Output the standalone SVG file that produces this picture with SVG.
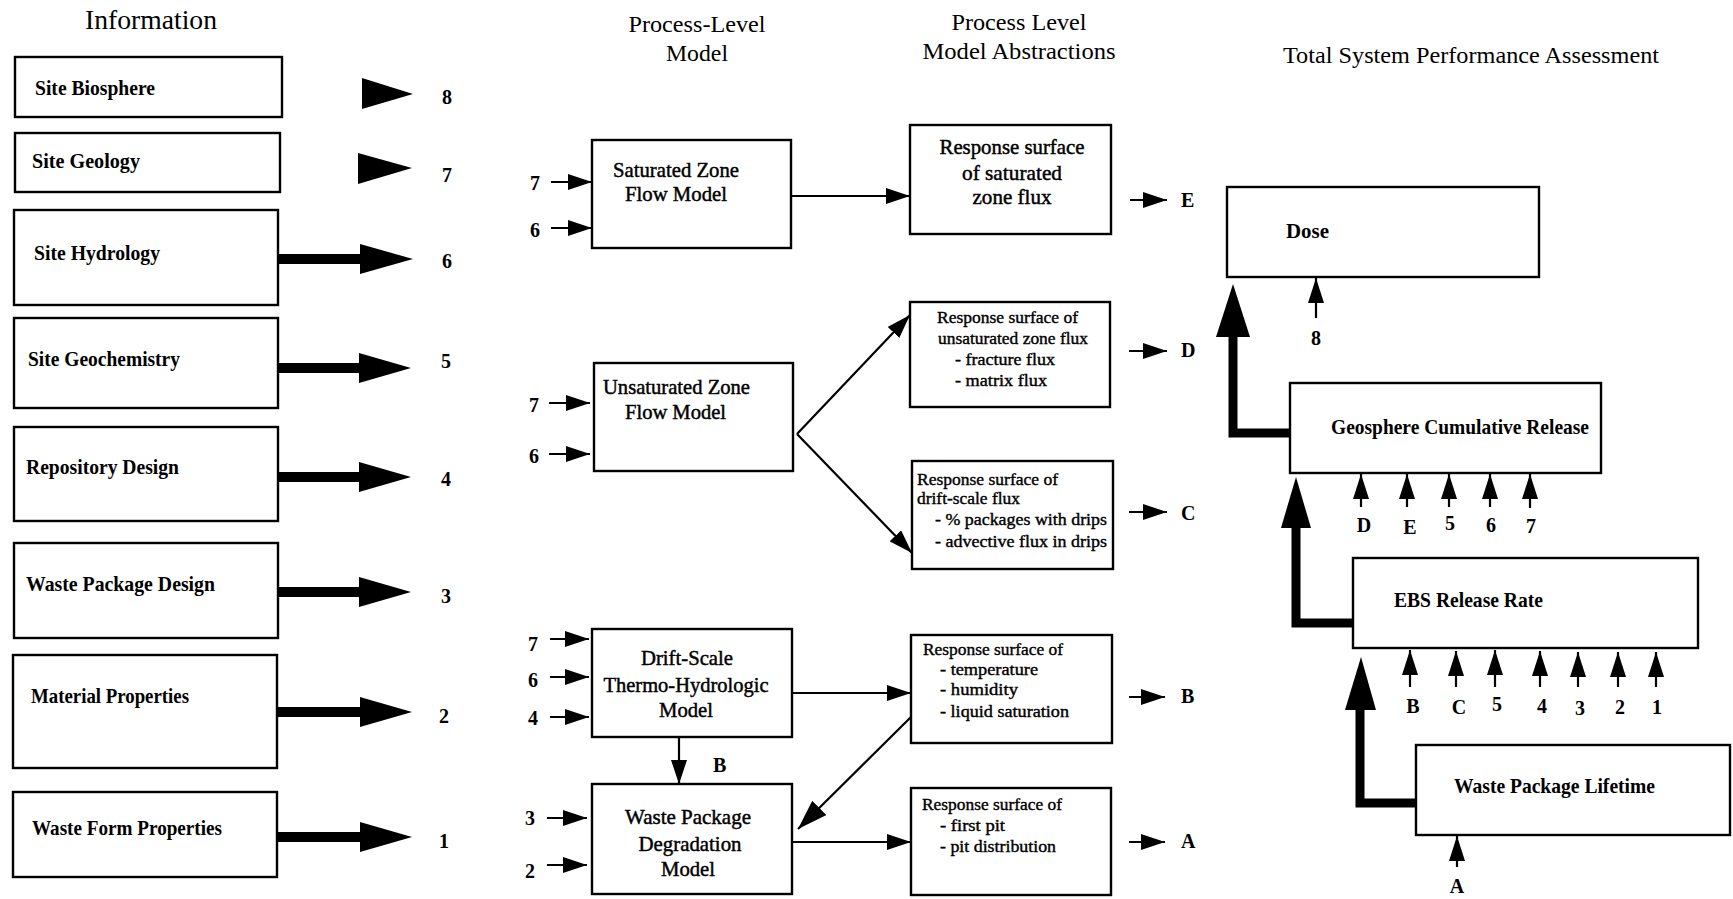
<svg xmlns="http://www.w3.org/2000/svg" width="1733" height="899" viewBox="0 0 1733 899">
<style>
.box{fill:#fff;stroke:#000;stroke-width:2.4}
text{font-family:"Liberation Serif","Times New Roman",serif;fill:#000}
.hd{font-size:24px}
.lb{font-size:21px;font-weight:bold}
.md{font-size:21px;stroke:#000;stroke-width:0.45}
.sm{font-size:17.5px;stroke:#000;stroke-width:0.4}
.num{font-size:20px;font-weight:bold}
.ln{stroke:#000;stroke-width:2.2;fill:none}
.blk{fill:#000;stroke:none}
.thick{fill:none;stroke:#000;stroke-width:9}
</style>
<defs>
<marker id="ah" markerUnits="userSpaceOnUse" markerWidth="24" markerHeight="16" viewBox="0 0 24 16" refX="24" refY="8" orient="auto"><path d="M0,0 L24,8 L0,16 z" fill="#000"/></marker>
<marker id="ab" markerUnits="userSpaceOnUse" markerWidth="30" markerHeight="20" viewBox="0 0 30 20" refX="30" refY="10" orient="auto"><path d="M0,0 L30,10 L0,20 z" fill="#000"/></marker>
<marker id="au" markerUnits="userSpaceOnUse" markerWidth="25" markerHeight="16" viewBox="0 0 25 16" refX="25" refY="8" orient="auto"><path d="M0,0 L25,8 L0,16 z" fill="#000"/></marker>
</defs>
<rect width="1733" height="899" fill="#fff"/>

<g id="headers">
<text x="85" y="29" textLength="132" lengthAdjust="spacingAndGlyphs" style="font-size:28px">Information</text>
<text class="hd" x="697" y="32" text-anchor="middle" textLength="137" lengthAdjust="spacingAndGlyphs">Process-Level</text>
<text class="hd" x="697" y="61" text-anchor="middle" textLength="62" lengthAdjust="spacingAndGlyphs">Model</text>
<text class="hd" x="1019" y="30" text-anchor="middle" textLength="135" lengthAdjust="spacingAndGlyphs">Process Level</text>
<text class="hd" x="1019" y="59" text-anchor="middle" textLength="193" lengthAdjust="spacingAndGlyphs">Model Abstractions</text>
<text class="hd" x="1283" y="63" textLength="376" lengthAdjust="spacingAndGlyphs">Total System Performance Assessment</text>
</g>

<g id="info-site-biosphere"><rect class="box" x="15" y="57" width="267" height="60"/><text class="lb" x="35" y="95" textLength="120" lengthAdjust="spacingAndGlyphs">Site Biosphere</text></g>
<g id="info-site-geology"><rect class="box" x="15" y="133" width="265" height="59"/><text class="lb" x="32" y="168" textLength="108" lengthAdjust="spacingAndGlyphs">Site Geology</text></g>
<g id="info-site-hydrology"><rect class="box" x="14" y="210" width="264" height="95"/><text class="lb" x="34" y="260" textLength="126" lengthAdjust="spacingAndGlyphs">Site Hydrology</text></g>
<g id="info-site-geochemistry"><rect class="box" x="14" y="318" width="264" height="90"/><text class="lb" x="28" y="366" textLength="152" lengthAdjust="spacingAndGlyphs">Site Geochemistry</text></g>
<g id="info-repository-design"><rect class="box" x="14" y="427" width="264" height="94"/><text class="lb" x="26" y="474" textLength="153" lengthAdjust="spacingAndGlyphs">Repository Design</text></g>
<g id="info-waste-package-design"><rect class="box" x="14" y="543" width="264" height="95"/><text class="lb" x="26" y="591" textLength="189" lengthAdjust="spacingAndGlyphs">Waste Package Design</text></g>
<g id="info-material-properties"><rect class="box" x="13" y="655" width="264" height="113"/><text class="lb" x="31" y="703" textLength="158" lengthAdjust="spacingAndGlyphs">Material Properties</text></g>
<g id="info-waste-form-properties"><rect class="box" x="13" y="792" width="264" height="85"/><text class="lb" x="32" y="835" textLength="190" lengthAdjust="spacingAndGlyphs">Waste Form Properties</text></g>

<g id="info-numbers">
<text class="num" x="442" y="104">8</text>
<text class="num" x="442" y="182">7</text>
<text class="num" x="442" y="268">6</text>
<text class="num" x="441" y="368">5</text>
<text class="num" x="441" y="486">4</text>
<text class="num" x="441" y="603">3</text>
<text class="num" x="439" y="723">2</text>
<text class="num" x="439" y="848">1</text>
</g>

<g id="plm-saturated-zone"><rect class="box" x="592" y="140" width="199" height="108"/>
<text class="md" x="613" y="177" textLength="126" lengthAdjust="spacingAndGlyphs">Saturated Zone</text>
<text class="md" x="625" y="201" textLength="102" lengthAdjust="spacingAndGlyphs">Flow Model</text></g>
<g id="plm-unsaturated-zone"><rect class="box" x="594" y="363" width="199" height="108"/>
<text class="md" x="603" y="394" textLength="147" lengthAdjust="spacingAndGlyphs">Unsaturated Zone</text>
<text class="md" x="625" y="419" textLength="101" lengthAdjust="spacingAndGlyphs">Flow Model</text></g>
<g id="plm-drift-scale"><rect class="box" x="592" y="629" width="200" height="108"/>
<text class="md" x="687" y="665" text-anchor="middle" textLength="92" lengthAdjust="spacingAndGlyphs">Drift-Scale</text>
<text class="md" x="686" y="692" text-anchor="middle" textLength="165" lengthAdjust="spacingAndGlyphs">Thermo-Hydrologic</text>
<text class="md" x="686" y="717" text-anchor="middle" textLength="54" lengthAdjust="spacingAndGlyphs">Model</text></g>
<g id="plm-waste-package"><rect class="box" x="592" y="784" width="200" height="110"/>
<text class="md" x="688" y="824" text-anchor="middle" textLength="126" lengthAdjust="spacingAndGlyphs">Waste Package</text>
<text class="md" x="690" y="851" text-anchor="middle" textLength="103" lengthAdjust="spacingAndGlyphs">Degradation</text>
<text class="md" x="688" y="876" text-anchor="middle" textLength="54" lengthAdjust="spacingAndGlyphs">Model</text></g>

<g id="abs-saturated"><rect class="box" x="910" y="125" width="201" height="109"/>
<text class="md" x="1012" y="154" text-anchor="middle" textLength="145" lengthAdjust="spacingAndGlyphs">Response surface</text>
<text class="md" x="1012" y="180" text-anchor="middle" textLength="100" lengthAdjust="spacingAndGlyphs">of saturated</text>
<text class="md" x="1012" y="204" text-anchor="middle" textLength="79" lengthAdjust="spacingAndGlyphs">zone flux</text></g>
<g id="abs-unsaturated"><rect class="box" x="910" y="302" width="200" height="105"/>
<text class="sm" x="937" y="323" textLength="141" lengthAdjust="spacingAndGlyphs">Response surface of</text>
<text class="sm" x="938" y="344" textLength="150" lengthAdjust="spacingAndGlyphs">unsaturated zone flux</text>
<text class="sm" x="955" y="365" textLength="100" lengthAdjust="spacingAndGlyphs">- fracture flux</text>
<text class="sm" x="955" y="386" textLength="92" lengthAdjust="spacingAndGlyphs">- matrix flux</text></g>
<g id="abs-drift-flux"><rect class="box" x="912" y="461" width="201" height="108"/>
<text class="sm" x="917" y="485" textLength="141" lengthAdjust="spacingAndGlyphs">Response surface of</text>
<text class="sm" x="917" y="504" textLength="103" lengthAdjust="spacingAndGlyphs">drift-scale flux</text>
<text class="sm" x="935" y="525" textLength="172" lengthAdjust="spacingAndGlyphs">- % packages with drips</text>
<text class="sm" x="935" y="547" textLength="172" lengthAdjust="spacingAndGlyphs">- advective flux in drips</text></g>
<g id="abs-thermal"><rect class="box" x="911" y="635" width="201" height="108"/>
<text class="sm" x="923" y="655" textLength="140" lengthAdjust="spacingAndGlyphs">Response surface of</text>
<text class="sm" x="940" y="675" textLength="98" lengthAdjust="spacingAndGlyphs">- temperature</text>
<text class="sm" x="940" y="695" textLength="78" lengthAdjust="spacingAndGlyphs">- humidity</text>
<text class="sm" x="940" y="717" textLength="129" lengthAdjust="spacingAndGlyphs">- liquid saturation</text></g>
<g id="abs-pit"><rect class="box" x="911" y="788" width="200" height="107"/>
<text class="sm" x="922" y="810" textLength="140" lengthAdjust="spacingAndGlyphs">Response surface of</text>
<text class="sm" x="940" y="831" textLength="65" lengthAdjust="spacingAndGlyphs">- first pit</text>
<text class="sm" x="940" y="852" textLength="116" lengthAdjust="spacingAndGlyphs">- pit distribution</text></g>

<g id="tspa-dose"><rect class="box" x="1227" y="187" width="312" height="90"/><text class="lb" x="1286" y="238" textLength="43" lengthAdjust="spacingAndGlyphs">Dose</text></g>
<g id="tspa-geosphere"><rect class="box" x="1290" y="383" width="311" height="90"/><text class="lb" x="1331" y="434" textLength="258" lengthAdjust="spacingAndGlyphs">Geosphere Cumulative Release</text></g>
<g id="tspa-ebs"><rect class="box" x="1353" y="558" width="345" height="90"/><text class="lb" x="1394" y="607" textLength="149" lengthAdjust="spacingAndGlyphs">EBS Release Rate</text></g>
<g id="tspa-wp-lifetime"><rect class="box" x="1416" y="745" width="314" height="90"/><text class="lb" x="1454" y="793" textLength="201" lengthAdjust="spacingAndGlyphs">Waste Package Lifetime</text></g>

<g id="connectors">
<polygon class="blk" points="362,78 413,94 362,109"/>
<polygon class="blk" points="358,153 412,168 358,184"/>
<rect class="blk" x="278" y="254" width="84" height="10"/><polygon class="blk" points="360,244 413,259 360,274"/>
<rect class="blk" x="278" y="363" width="83" height="10"/><polygon class="blk" points="359,353 411,368 359,383"/>
<rect class="blk" x="278" y="472" width="83" height="10"/><polygon class="blk" points="359,462 411,477 359,492"/>
<rect class="blk" x="278" y="587" width="83" height="10"/><polygon class="blk" points="359,577 411,592 359,607"/>
<rect class="blk" x="277" y="707" width="85" height="10"/><polygon class="blk" points="360,697 412,712 360,727"/>
<rect class="blk" x="277" y="832" width="85" height="10"/><polygon class="blk" points="360,822 412,837 360,852"/>

<line class="ln" x1="551" y1="182" x2="592" y2="182" marker-end="url(#ah)"/>
<line class="ln" x1="551" y1="228" x2="592" y2="228" marker-end="url(#ah)"/>
<line class="ln" x1="549" y1="403" x2="590" y2="403" marker-end="url(#ah)"/>
<line class="ln" x1="549" y1="454" x2="590" y2="454" marker-end="url(#ah)"/>
<line class="ln" x1="550" y1="639" x2="589" y2="639" marker-end="url(#ah)"/>
<line class="ln" x1="550" y1="677" x2="589" y2="677" marker-end="url(#ah)"/>
<line class="ln" x1="550" y1="717" x2="589" y2="717" marker-end="url(#ah)"/>
<line class="ln" x1="547" y1="818" x2="587" y2="818" marker-end="url(#ah)"/>
<line class="ln" x1="547" y1="865" x2="587" y2="865" marker-end="url(#ah)"/>

<line class="ln" x1="791" y1="196" x2="910" y2="196" marker-end="url(#ah)"/>
<line class="ln" x1="797" y1="434" x2="910" y2="315" marker-end="url(#ah)"/>
<line class="ln" x1="797" y1="434" x2="912" y2="553" marker-end="url(#ah)"/>
<line class="ln" x1="792" y1="693" x2="911" y2="693" marker-end="url(#ah)"/>
<line class="ln" x1="679" y1="737" x2="679" y2="784" marker-end="url(#ah)"/>
<line class="ln" x1="911" y1="717" x2="798" y2="829" marker-end="url(#ab)"/>
<line class="ln" x1="792" y1="842" x2="911" y2="842" marker-end="url(#ah)"/>

<line class="ln" x1="1130" y1="200" x2="1167" y2="200" marker-end="url(#ah)"/>
<line class="ln" x1="1129" y1="351" x2="1167" y2="351" marker-end="url(#ah)"/>
<line class="ln" x1="1129" y1="512" x2="1167" y2="512" marker-end="url(#ah)"/>
<line class="ln" x1="1129" y1="697" x2="1165" y2="697" marker-end="url(#ah)"/>
<line class="ln" x1="1129" y1="842" x2="1165" y2="842" marker-end="url(#ah)"/>

<polyline class="thick" points="1290,433 1233,433 1233,335"/>
<polygon class="blk" points="1233,284 1250,337 1216,337"/>
<polyline class="thick" points="1353,623 1296,623 1296,526"/>
<polygon class="blk" points="1296,477 1311,528 1281,528"/>
<polyline class="thick" points="1416,803 1360,803 1360,708"/>
<polygon class="blk" points="1361,657 1376,710 1345,710"/>

<line class="ln" x1="1316" y1="318" x2="1316" y2="278" marker-end="url(#au)"/>
<line class="ln" x1="1361" y1="507" x2="1361" y2="474" marker-end="url(#au)"/>
<line class="ln" x1="1407" y1="507" x2="1407" y2="474" marker-end="url(#au)"/>
<line class="ln" x1="1449" y1="507" x2="1449" y2="474" marker-end="url(#au)"/>
<line class="ln" x1="1490" y1="507" x2="1490" y2="474" marker-end="url(#au)"/>
<line class="ln" x1="1530" y1="508" x2="1530" y2="474" marker-end="url(#au)"/>
<line class="ln" x1="1410" y1="687" x2="1410" y2="650" marker-end="url(#au)"/>
<line class="ln" x1="1456" y1="687" x2="1456" y2="651" marker-end="url(#au)"/>
<line class="ln" x1="1495" y1="687" x2="1495" y2="650" marker-end="url(#au)"/>
<line class="ln" x1="1540" y1="687" x2="1540" y2="651" marker-end="url(#au)"/>
<line class="ln" x1="1578" y1="687" x2="1578" y2="652" marker-end="url(#au)"/>
<line class="ln" x1="1618" y1="687" x2="1618" y2="652" marker-end="url(#au)"/>
<line class="ln" x1="1656" y1="687" x2="1656" y2="652" marker-end="url(#au)"/>
<line class="ln" x1="1457" y1="867" x2="1457" y2="836" marker-end="url(#au)"/>
</g>

<g id="connector-labels">
<text class="num" x="530" y="190">7</text>
<text class="num" x="530" y="237">6</text>
<text class="num" x="529" y="412">7</text>
<text class="num" x="529" y="463">6</text>
<text class="num" x="528" y="651">7</text>
<text class="num" x="528" y="687">6</text>
<text class="num" x="528" y="725">4</text>
<text class="num" x="525" y="825">3</text>
<text class="num" x="525" y="878">2</text>
<text class="num" x="713" y="772">B</text>
<text class="num" x="1181" y="207">E</text>
<text class="num" x="1181" y="357">D</text>
<text class="num" x="1181" y="520">C</text>
<text class="num" x="1181" y="703">B</text>
<text class="num" x="1181" y="848">A</text>
<text class="num" x="1316" y="345" text-anchor="middle">8</text>
<text class="num" x="1364" y="532" text-anchor="middle">D</text>
<text class="num" x="1410" y="534" text-anchor="middle">E</text>
<text class="num" x="1450" y="530" text-anchor="middle">5</text>
<text class="num" x="1491" y="532" text-anchor="middle">6</text>
<text class="num" x="1531" y="533" text-anchor="middle">7</text>
<text class="num" x="1413" y="713" text-anchor="middle">B</text>
<text class="num" x="1459" y="714" text-anchor="middle">C</text>
<text class="num" x="1497" y="711" text-anchor="middle">5</text>
<text class="num" x="1542" y="713" text-anchor="middle">4</text>
<text class="num" x="1580" y="715" text-anchor="middle">3</text>
<text class="num" x="1620" y="714" text-anchor="middle">2</text>
<text class="num" x="1657" y="714" text-anchor="middle">1</text>
<text class="num" x="1457" y="893" text-anchor="middle">A</text>
</g>
</svg>
